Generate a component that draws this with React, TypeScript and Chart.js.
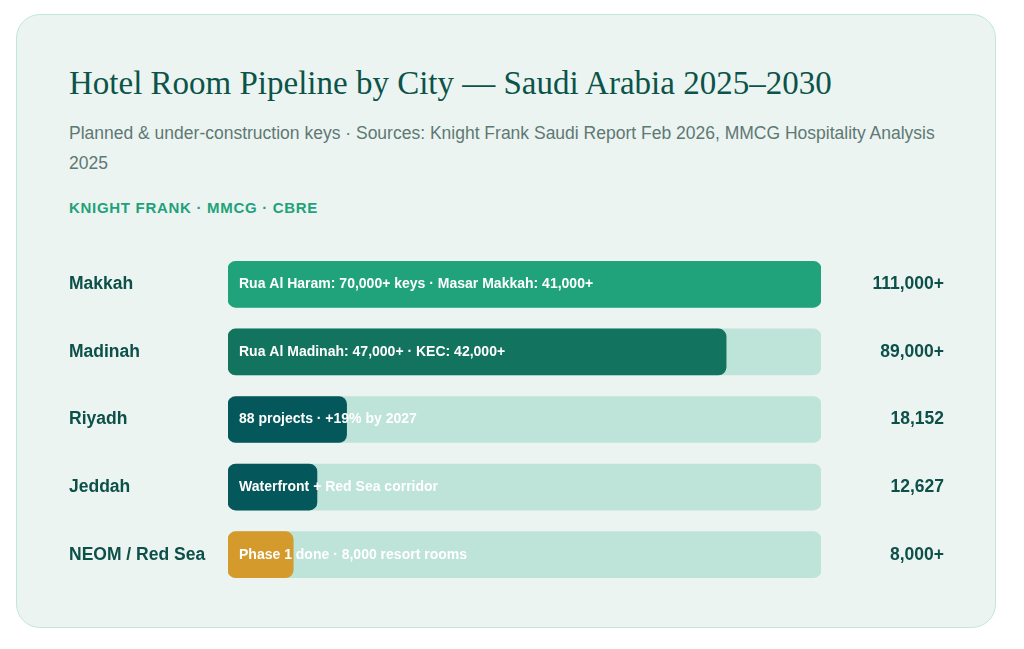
import React, { useEffect, useRef } from "react";
import { Chart, registerables } from "chart.js";

Chart.register(...registerables);

const cities = ["Makkah", "Madinah", "Riyadh", "Jeddah", "NEOM / Red Sea"];
const barShare = [100, 84, 20, 15, 11];
const trackShare = [100, 100, 100, 100, 100];
const valueLabels = ["111,000+", "89,000+", "18,152", "12,627", "8,000+"];
const innerNotes = [
  "Rua Al Haram: 70,000+ keys · Masar Makkah: 41,000+",
  "Rua Al Madinah: 47,000+ · KEC: 42,000+",
  "88 projects · +19% by 2027",
  "Waterfront + Red Sea corridor",
  "Phase 1 done · 8,000 resort rooms",
];
const barColors = ["#20a37a", "#12735f", "#04575a", "#04575a", "#d49a2c"];

const SANS = "'Liberation Sans', Arial, sans-serif";

const labelPlugin = {
  id: "rowLabels",
  afterDatasetsDraw(chart: any) {
    const ctx = chart.ctx;
    const meta = chart.getDatasetMeta(1);
    const area = chart.chartArea;
    ctx.save();
    ctx.textBaseline = "middle";
    meta.data.forEach((bar: any, i: number) => {
      const left = bar.base;
      ctx.font = `bold 14px ${SANS}`;
      ctx.fillStyle = "#ffffff";
      ctx.textAlign = "left";
      ctx.fillText(innerNotes[i], left + 11, bar.y);
      ctx.font = `bold 17.5px ${SANS}`;
      ctx.fillStyle = "#0d4f49";
      ctx.textAlign = "right";
      ctx.fillText(valueLabels[i], area.right + 123, bar.y);
    });
    ctx.restore();
  },
};

function BarChart() {
  const ref = useRef<HTMLCanvasElement>(null);
  useEffect(() => {
    if (!ref.current) return;
    const chart = new Chart(ref.current, {
      type: "bar",
      data: {
        labels: cities,
        datasets: [
          {
            data: trackShare,
            backgroundColor: "#bee3d8",
            borderRadius: 8,
            borderSkipped: false,
            barThickness: 46,
            grouped: false,
            order: 2,
          },
          {
            data: barShare,
            backgroundColor: barColors,
            borderRadius: 8,
            borderSkipped: false,
            barThickness: 46,
            grouped: false,
            order: 1,
          },
        ],
      },
      options: {
        indexAxis: "y",
        animation: false,
        responsive: false,
        maintainAspectRatio: false,
        layout: { padding: { left: 0, right: 124, top: 0, bottom: 0 } },
        plugins: { legend: { display: false }, tooltip: { enabled: false } },
        scales: {
          x: { display: false, min: 0, max: 100 },
          y: {
            grid: { display: false },
            border: { display: false },
            afterFit(scale: any) {
              scale.width = 159;
            },
            ticks: {
              crossAlign: "far",
              padding: 0,
              color: "#0d4f49",
              font: { family: SANS, size: 17.5, weight: "bold" },
            },
          },
        },
      },
      plugins: [labelPlugin],
    } as any);
    return () => chart.destroy();
  }, []);
  return <canvas ref={ref} width={876} height={359} style={{ display: "block" }} />;
}

export default function App() {
  return (
    <div
      style={{
        position: "relative",
        margin: "6px 0 0 8px",
        width: 980,
        height: 614,
        boxSizing: "border-box",
        background: "#ebf4f1",
        border: "1px solid #c3e6db",
        borderRadius: 24,
      }}
    >
      <div
        style={{
          position: "absolute",
          left: 52,
          top: 48,
          fontFamily: "'Liberation Serif', 'Times New Roman', serif",
          fontSize: 33,
          lineHeight: "40px",
          color: "#0c5349",
          whiteSpace: "nowrap",
        }}
      >
        Hotel Room Pipeline by City — Saudi Arabia 2025–2030
      </div>
      <div
        style={{
          position: "absolute",
          left: 52,
          top: 103,
          width: 874,
          fontFamily: SANS,
          fontSize: 17.5,
          lineHeight: "30px",
          color: "#5f7873",
        }}
      >
        Planned &amp; under-construction keys · Sources: Knight Frank Saudi Report Feb 2026, MMCG Hospitality Analysis 2025
      </div>
      <div
        style={{
          position: "absolute",
          left: 52,
          top: 184,
          fontFamily: SANS,
          fontSize: 15,
          fontWeight: "bold",
          letterSpacing: 0.7,
          color: "#1fa27b",
          whiteSpace: "nowrap",
        }}
      >
        KNIGHT FRANK · MMCG · CBRE
      </div>
      <div style={{ position: "absolute", left: 52, top: 225 }}>
        <BarChart />
      </div>
    </div>
  );
}
